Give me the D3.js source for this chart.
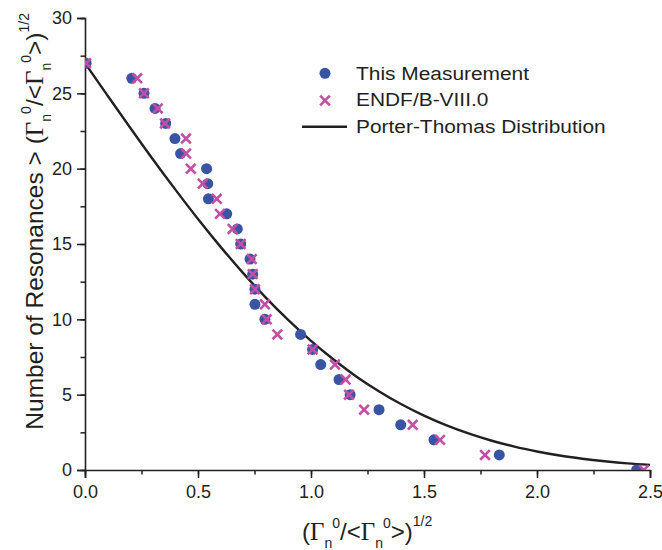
<!DOCTYPE html>
<html><head><meta charset="utf-8">
<script src="https://cdn.jsdelivr.net/npm/d3@7/dist/d3.min.js"></script>
<style>
html,body{margin:0;padding:0;background:#fff;}
svg{display:block;}
text{font-family:"Liberation Sans",Arial,sans-serif;fill:#231f20;}
</style></head>
<body>
<script>
// y values: number of resonances above threshold
const counts = [27,26,25,24,23,22,21,20,19,18,17,16,15,14,13,12,11,10,9,8,7,6,5,4,3,2,1,0];
// This Measurement x values
const measX = [0.005,0.207,0.261,0.310,0.357,0.398,0.423,0.538,0.543,0.546,0.627,0.674,0.689,0.730,0.742,0.752,0.752,0.796,0.954,1.007,1.043,1.124,1.173,1.301,1.397,1.544,1.833,2.441];
// ENDF/B-VIII.0 x values
const endfX = [0.005,0.231,0.261,0.322,0.354,0.447,0.447,0.468,0.521,0.583,0.597,0.653,0.689,0.738,0.742,0.752,0.796,0.804,0.851,1.007,1.106,1.153,1.168,1.235,1.450,1.571,1.770,2.473];
// Porter-Thomas curve
const ptX = [0,0.1,0.2,0.3,0.4,0.5,0.6,0.7,0.8,0.9,1.0,1.1,1.2,1.3,1.4,1.5,1.6,1.7,1.8,1.9,2.0,2.1,2.2,2.3,2.4,2.5];
const ptY = [27,24.85,22.72,20.63,18.61,16.66,14.81,13.07,11.44,9.94,8.57,7.33,6.21,5.23,4.36,3.61,2.96,2.41,1.94,1.55,1.23,0.96,0.75,0.58,0.44,0.34];
const xTicks = [0,0.5,1.0,1.5,2.0,2.5];
const yTicks = [0,5,10,15,20,25,30];
const legendLabels = ["This Measurement","ENDF/B-VIII.0","Porter-Thomas Distribution"];

const W=662,H=550;
const svg=d3.select("body").append("svg").attr("width",W).attr("height",H);
const x=d3.scaleLinear().domain([0,2.5]).range([85,650]);
const y=d3.scaleLinear().domain([0,30]).range([470,18]);
const blue="#3953a5", mag="#c24fa4", ink="#231f20";

svg.append("clipPath").attr("id","clip").append("rect")
  .attr("x",x(0)).attr("y",y(30)).attr("width",x(2.5)-x(0)).attr("height",y(0)-y(30));

// axes
const xMinor=d3.range(0,2.5001,0.25);
const yMinor=d3.range(0,30.001,2.5);
const gx=svg.append("g").attr("transform",`translate(0,${y(0)})`);
gx.call(d3.axisBottom(x).tickValues(xMinor).tickSize(4.5).tickFormat(""));
gx.selectAll(".tick line").attr("stroke",ink).attr("stroke-width",1.5);
gx.select(".domain").remove();
const gx2=svg.append("g").attr("transform",`translate(0,${y(0)})`);
gx2.call(d3.axisBottom(x).tickValues(xTicks).tickSize(8).tickPadding(7).tickFormat(d3.format(".1f")));
gx2.selectAll(".tick line").attr("stroke",ink).attr("stroke-width",1.5);
gx2.selectAll(".tick text").attr("font-size",18).attr("font-family","Liberation Sans,Arial,sans-serif").attr("fill",ink);
gx2.select(".domain").attr("stroke",ink).attr("stroke-width",1.6);

const gy=svg.append("g").attr("transform",`translate(${x(0)},0)`);
gy.call(d3.axisLeft(y).tickValues(yMinor).tickSize(4.5).tickFormat(""));
gy.selectAll(".tick line").attr("stroke",ink).attr("stroke-width",1.5);
gy.select(".domain").remove();
const gy2=svg.append("g").attr("transform",`translate(${x(0)},0)`);
gy2.call(d3.axisLeft(y).tickValues(yTicks).tickSize(8).tickPadding(5).tickFormat(d3.format("d")));
gy2.selectAll(".tick line").attr("stroke",ink).attr("stroke-width",1.5);
gy2.selectAll(".tick text").attr("font-size",18).attr("font-family","Liberation Sans,Arial,sans-serif").attr("fill",ink);
gy2.select(".domain").attr("stroke",ink).attr("stroke-width",1.6);

// data
const plot=svg.append("g").attr("clip-path","url(#clip)");
const line=d3.line().x((d,i)=>x(ptX[i])).y(d=>y(d)).curve(d3.curveCatmullRom);
plot.append("path").attr("d",line(ptY)).attr("fill","none").attr("stroke",ink).attr("stroke-width",2.4);

plot.selectAll("circle.m").data(measX).join("circle").attr("class","m")
  .attr("cx",d=>x(d)).attr("cy",(d,i)=>y(counts[i])).attr("r",5.5).attr("fill",blue);

const cross=d3.symbol().type(d3.symbolX).size(62);
plot.selectAll("path.e").data(endfX).join("path").attr("class","e")
  .attr("transform",(d,i)=>`translate(${x(d)},${y(counts[i])})`)
  .attr("d",cross()).attr("fill","none").attr("stroke",mag).attr("stroke-width",2.6);

// legend
const lg=svg.append("g");
lg.append("circle").attr("cx",325).attr("cy",73.3).attr("r",5.5).attr("fill",blue);
lg.append("path").attr("transform","translate(325,100.5)").attr("d",cross()).attr("fill","none").attr("stroke",mag).attr("stroke-width",2.6);
lg.append("line").attr("x1",302).attr("x2",347).attr("y1",126.7).attr("y2",126.7).attr("stroke",ink).attr("stroke-width",2.4);
legendLabels.forEach((t,i)=>{
  lg.append("text").attr("transform",`translate(356,${79.5+26.7*i}) scale(1.1,1)`).attr("font-size",19).text(t);
});

// titles with Gamma sub/superscripts
function gammaTitle(t){
  const add=(txt,opt={})=>{const s=t.append("tspan").text(txt);
    if(opt.f) s.attr("font-family","Liberation Serif,Times New Roman,serif");
    if(opt.fs) s.attr("font-size",opt.fs);
    if(opt.dy!==undefined) s.attr("dy",opt.dy);
    return s;};
  add("(");
  add("Γ",{f:1,fs:25});
  add("n",{fs:14,dy:8});
  add("0",{fs:14,dy:-20});
  add("/<",{dy:12});
  add("Γ",{f:1,fs:25});
  add("n",{fs:14,dy:8});
  add("0",{fs:14,dy:-20});
  add(">)",{dy:12});
  add("1/2",{fs:14,dy:-14});
}
const xt=svg.append("text").attr("transform","translate(302,540)").attr("font-size",24);
gammaTitle(xt);

const yt=svg.append("text").attr("transform",`translate(43,13) rotate(-90)`)
  .attr("text-anchor","end").attr("font-size",24.5);
yt.append("tspan").text("Number of Resonances > ");
gammaTitle(yt);
</script>
</body></html>
